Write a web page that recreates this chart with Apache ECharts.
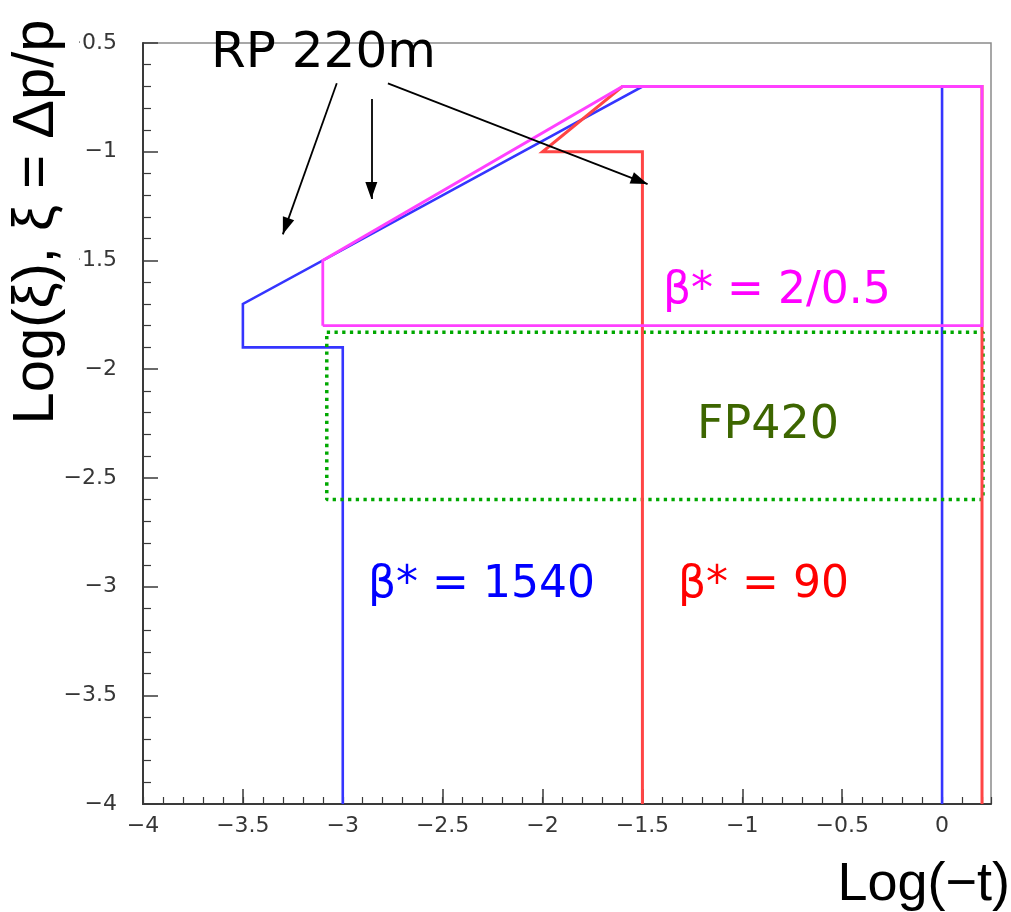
<!DOCTYPE html>
<html>
<head>
<meta charset="utf-8">
<script src="https://cdn.jsdelivr.net/npm/echarts@6/dist/echarts.min.js"></script>
<style>
  html, body { margin: 0; padding: 0; background: #fff; }
  #chart { width: 1011px; height: 912px; }
</style>
</head>
<body>
<div id="chart"></div>
<script>
// Acceptance regions in the Log(-t) / Log(xi) plane
const xRange = [-4, 0.245];
const yRange = [-4, -0.5];
const xMajorTicks = [-4, -3.5, -3, -2.5, -2, -1.5, -1, -0.5, 0];
const yMajorTicks = [-4, -3.5, -3, -2.5, -2, -1.5, -1, -0.5];

// beta* = 1540 optics (RP 220m)
const beta1540 = [[-3, -4], [-3, -1.9], [-3.5, -1.9], [-3.5, -1.7], [-1.5, -0.7], [0, -0.7], [0, -4]];
// beta* = 90 optics (RP 220m)
const beta90 = [[-1.5, -4], [-1.5, -1], [-2, -1], [-1.6, -0.7], [0.2, -0.7], [0.2, -4]];
// beta* = 2/0.5 optics (RP 220m)
const beta2 = [[-3.1, -1.8], [-3.1, -1.5], [-1.6, -0.7], [0.2, -0.7], [0.2, -1.8], [-3.1, -1.8]];
// FP420 region
const fp420 = [[-3.08, -1.83], [0.205, -1.83], [0.205, -2.6], [-3.08, -2.6], [-3.08, -1.83]];

// Arrows from the "RP 220m" caption: [from, tip]
const rpArrows = [
  [[-3.03, -0.685], [-3.30, -1.38]],
  [[-2.857, -0.757], [-2.857, -1.218]],
  [[-2.774, -0.686], [-1.474, -1.149]]
];

const minus = v => String(v).replace('-', '\u2212');
const tickFont = 'DejaVu Sans';
const tickSize = 22;
const tickColor = '#363636';

const chart = echarts.init(document.getElementById('chart'), null, { renderer: 'canvas' });

function edgeSeries(name, data, color, width, extra) {
  return Object.assign({
    name, type: 'line', data,
    xAxisIndex: 0, yAxisIndex: 0,
    showSymbol: false, symbol: 'none', silent: true, animation: false,
    lineStyle: { color, width, cap: 'butt', join: 'miter' }
  }, extra || {});
}

const tickLabel = (list) => ({
  show: true, color: tickColor, fontSize: tickSize, fontFamily: tickFont,
  formatter: v => list.some(t => Math.abs(t - v) < 1e-9) ? minus(v) : ''
});

chart.setOption({
  animation: false,
  backgroundColor: '#ffffff',
  grid: {
    left: 143, right: 20, top: 43, bottom: 108,
    show: true, borderColor: '#8a8a8a', borderWidth: 1.5, backgroundColor: 'transparent'
  },
  xAxis: [
    {
      type: 'value', min: xRange[0], max: xRange[1], interval: 0.5,
      axisLine: { show: true, onZero: false, lineStyle: { color: '#3a3a3a', width: 2 } },
      axisTick: { show: true, inside: true, length: 15, lineStyle: { color: '#3a3a3a', width: 1.5 } },
      axisLabel: Object.assign(tickLabel(xMajorTicks), { margin: 11, showMaxLabel: false }),
      splitLine: { show: false }
    },
    {
      type: 'value', min: xRange[0], max: xRange[1], interval: 0.1, position: 'bottom',
      axisLine: { show: false },
      axisTick: { show: true, inside: true, length: 7, lineStyle: { color: '#3a3a3a', width: 1.2 } },
      axisLabel: { show: false },
      splitLine: { show: false }
    }
  ],
  yAxis: {
    type: 'value', min: yRange[0], max: yRange[1], interval: 0.5,
    axisLine: { show: true, onZero: false, lineStyle: { color: '#3a3a3a', width: 2 } },
    axisTick: { show: true, inside: true, length: 15, lineStyle: { color: '#3a3a3a', width: 1.5 } },
    minorTick: { show: true, splitNumber: 5, length: 8, lineStyle: { color: '#3a3a3a', width: 1.2 } },
    axisLabel: Object.assign(tickLabel(yMajorTicks), { margin: 26 }),
    splitLine: { show: false }
  },
  series: [
    edgeSeries('\u03b2* = 1540', beta1540, '#3535ff', 2.6),
    edgeSeries('FP420', fp420, '#00a800', 3.5, {
      lineStyle: { color: '#00a800', width: 3.5, type: [3.3, 4.4], cap: 'butt' }
    }),
    edgeSeries('\u03b2* = 90', beta90, '#ff4545', 3),
    edgeSeries('\u03b2* = 2/0.5', beta2, '#ff40ff', 2.8),
    {
      name: 'RP 220m', type: 'line', data: [], silent: true,
      markLine: {
        silent: true, animation: false,
        symbol: ['none', 'triangle'], symbolSize: [12, 17], symbolOffset: [0, [0, 8.5]],
        label: { show: false },
        lineStyle: { color: '#000', width: 1.8, type: 'solid' },
        emphasis: { disabled: true },
        data: rpArrows.map(([a, b]) => [{ coord: a }, { coord: b }])
      }
    }
  ],
  graphic: [
    {
      type: 'text', x: 37, y: 222, rotation: Math.PI / 2, z: 100,
      style: {
        text: 'Log(\u03be), \u03be = \u0394p/p', font: '58px "Liberation Sans"', fill: '#000',
        align: 'center', verticalAlign: 'middle', backgroundColor: '#fff', padding: [0, 0, 26, 0]
      }
    },
    {
      type: 'text', x: 1010, y: 885, z: 100,
      style: { text: 'Log(\u2212t)', font: '54px "Liberation Sans"', fill: '#000', align: 'right', verticalAlign: 'middle' }
    },
    {
      type: 'text', x: 211, y: 54, z: 100,
      style: { text: 'RP 220m', font: '50px "DejaVu Sans"', fill: '#000', align: 'left', verticalAlign: 'middle' }
    },
    {
      type: 'text', x: 663, y: 292, z: 100,
      style: { text: '\u03b2* = 2/0.5', font: '44px "DejaVu Sans"', fill: '#ff00ff', align: 'left', verticalAlign: 'middle' }
    },
    {
      type: 'text', x: 697, y: 426, z: 100,
      style: { text: 'FP420', font: '46px "DejaVu Sans"', fill: '#3d6600', align: 'left', verticalAlign: 'middle' }
    },
    {
      type: 'text', x: 368, y: 586, z: 100,
      style: { text: '\u03b2* = 1540', font: '44px "DejaVu Sans"', fill: '#0000ff', align: 'left', verticalAlign: 'middle' }
    },
    {
      type: 'text', x: 678, y: 586, z: 100,
      style: { text: '\u03b2* = 90', font: '44px "DejaVu Sans"', fill: '#ff0000', align: 'left', verticalAlign: 'middle' }
    }
  ]
});
</script>
</body>
</html>
